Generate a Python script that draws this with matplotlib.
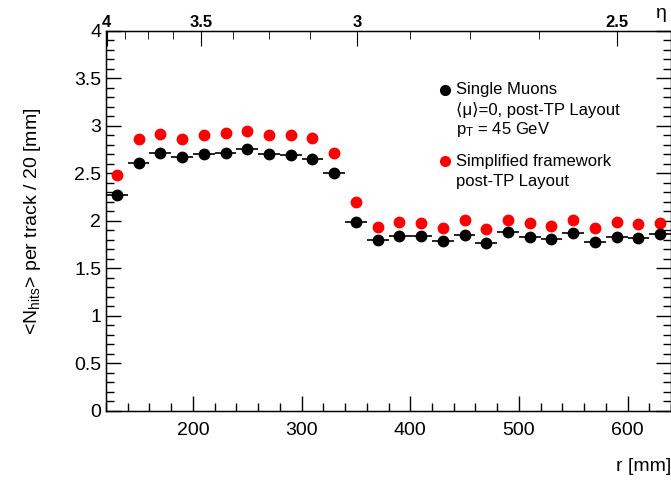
import matplotlib
matplotlib.use("Agg")
import matplotlib.pyplot as plt
from matplotlib.ticker import MultipleLocator
import numpy as np

plt.rcParams['font.family'] = ['Liberation Sans', 'DejaVu Sans']
plt.rcParams['mathtext.fontset'] = 'custom'
plt.rcParams['mathtext.rm'] = 'Liberation Sans'
plt.rcParams['mathtext.it'] = 'Liberation Sans'

# bin centres (r, mm) and bin half width
r_centres = [130, 150, 170, 190, 210, 230, 250, 270, 290, 310, 330, 350, 370,
             390, 410, 430, 450, 470, 490, 510, 530, 550, 570, 590, 610, 630]
r_halfwidth = 10

single_muons = [2.27, 2.61, 2.72, 2.67, 2.70, 2.72, 2.76, 2.71, 2.69, 2.65, 2.50, 1.99, 1.80,
                1.845, 1.84, 1.79, 1.85, 1.77, 1.88, 1.83, 1.81, 1.87, 1.78, 1.83, 1.82, 1.86]
simplified = [2.48, 2.86, 2.92, 2.86, 2.90, 2.93, 2.95, 2.91, 2.91, 2.87, 2.72, 2.20, 1.94,
              1.99, 1.98, 1.93, 2.01, 1.92, 2.01, 1.98, 1.95, 2.01, 1.93, 1.99, 1.97, 1.98]

# top eta axis: tick positions in r and labels
eta_major_r = [120.5, 207.6, 351.2, 590.3]
eta_major_labels = ['4', '3.5', '3', '2.5']
eta_minor_r = [137.1, 158.6, 181.6, 236.8, 269.9, 308.2, 399.6, 455.1, 518.3]

legend_black = ['Single Muons', '\u27e8\u03bc\u27e9=0, post-TP Layout', r'p$_{\rm T}$ = 45 GeV']
legend_red = ['Simplified framework', 'post-TP Layout']

fig = plt.figure(figsize=(6.71, 4.84), dpi=100)
ax = fig.add_axes([0.158, 0.151, 0.842, 0.785])

ax.errorbar(r_centres, single_muons, xerr=r_halfwidth, fmt='o', color='black',
            markersize=7.5, elinewidth=1.2, capsize=0, zorder=3)
ax.plot(r_centres, simplified, 'o', color='#ff0000', markersize=7.5, zorder=2)

ax.set_xlim(120, 640)
ax.set_ylim(0, 4)
ax.xaxis.set_major_locator(MultipleLocator(100))
ax.xaxis.set_minor_locator(MultipleLocator(20))
ax.yaxis.set_major_locator(MultipleLocator(0.5))
ax.yaxis.set_minor_locator(MultipleLocator(0.1))
ax.yaxis.set_major_formatter(matplotlib.ticker.FuncFormatter(lambda v, p: f'{v:g}'))
ax.tick_params(axis='both', which='both', direction='in', labelsize=14, width=1)
ax.tick_params(axis='y', which='both', right=True)
ax.tick_params(axis='x', which='both', top=False)
ax.tick_params(which='major', length=11)
ax.tick_params(which='minor', length=6)
ax.tick_params(axis='x', pad=8)

ax.set_xlabel('r [mm]', fontsize=14, loc='right', labelpad=14)
ax.set_ylabel('<N$_{\\rm hits}$> per track / 20 [mm]', fontsize=14, labelpad=22)

top = ax.twiny()
top.set_xlim(ax.get_xlim())
top.set_xticks(eta_major_r)
top.set_xticklabels(eta_major_labels, fontsize=12, fontweight='bold')
top.set_xticks(eta_minor_r, minor=True)
top.tick_params(axis='x', which='both', direction='in', pad=1)
top.tick_params(which='major', length=11)
top.tick_params(which='minor', length=6)
fig.text(0.994, 0.972, '\u03b7', fontsize=14, ha='right', va='center')

for s in ax.spines.values():
    s.set_linewidth(1)

# manual legend (axes coordinates)
lx_marker, lx_text = 0.600, 0.620
y0, dy = 0.845, 0.0527
ax.plot([lx_marker], [y0], 'o', color='black', markersize=7, transform=ax.transAxes, clip_on=False)
for i, t in enumerate(legend_black):
    ax.text(lx_text, y0 - i * dy, t, transform=ax.transAxes, fontsize=12, va='center', ha='left')
y1 = y0 - 3 * dy - 0.03
ax.plot([lx_marker], [y1], 'o', color='#ff0000', markersize=7, transform=ax.transAxes, clip_on=False)
for i, t in enumerate(legend_red):
    ax.text(lx_text, y1 - i * dy, t, transform=ax.transAxes, fontsize=12, va='center', ha='left')

fig.savefig('out.png', dpi=100)
